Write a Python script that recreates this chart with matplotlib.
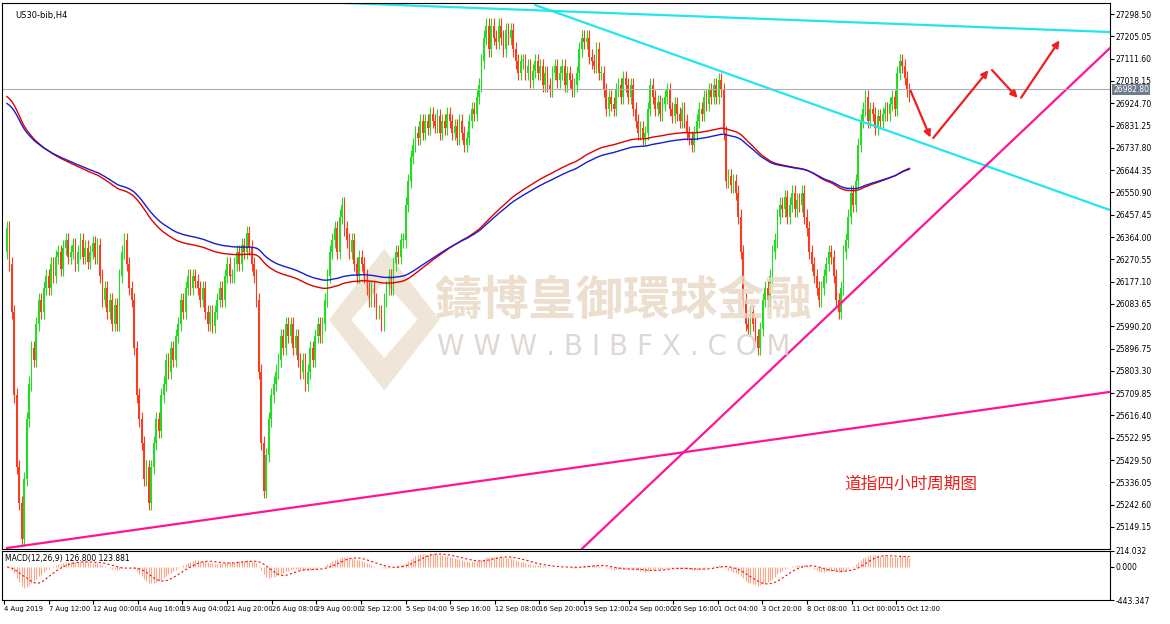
import numpy as np
import pandas as pd
import matplotlib
matplotlib.use("Agg")
import matplotlib.pyplot as plt
from matplotlib.patches import Rectangle, Polygon

plt.rcParams['font.family'] = ['Noto Sans CJK SC', 'DejaVu Sans']

closes = [
26400,26250,26050,25700,25400,25250,25100,25350,25600,25750,
25900,25850,26000,26100,26050,26150,26200,26150,26250,26200,
26280,26300,26230,26320,26350,26280,26300,26330,26250,26300,
26350,26280,26320,26260,26300,26340,26280,26330,26200,26100,
26150,26050,26100,26000,26080,26000,26200,26300,26350,26250,
26150,26100,25900,25700,25600,25500,25350,25400,25250,25400,
25500,25600,25550,25700,25750,25850,25800,25900,25850,25950,
26000,26100,26050,26150,26200,26150,26200,26180,26150,26100,
26150,26050,26000,26050,25990,26050,26100,26150,26100,26200,
26250,26200,26200,26250,26300,26250,26330,26300,26380,26320,
26250,26200,26100,25800,25500,25300,25450,25600,25700,25750,
25800,25850,25950,25900,26000,25950,26000,25900,25950,25850,
25800,25850,25750,25800,25900,25850,25950,26000,25950,26000,
26100,26200,26300,26350,26400,26300,26450,26500,26400,26350,
26300,26350,26250,26200,26280,26250,26200,26150,26100,26150,
26100,26050,26050,26000,26100,26150,26200,26150,26250,26300,
26280,26350,26350,26500,26600,26700,26750,26800,26780,26850,
26800,26850,26820,26880,26850,26830,26870,26800,26850,26820,
26880,26850,26800,26830,26780,26850,26800,26750,26780,26850,
26900,26880,26950,27000,27100,27200,27250,27150,27250,27200,
27180,27250,27200,27150,27230,27200,27230,27150,27100,27050,
27100,27100,27050,27080,27020,27060,27100,27050,27080,27000,
27050,27000,26980,27050,27080,27020,27050,27080,27000,27050,
27020,26980,27000,27050,27150,27200,27180,27200,27120,27100,
27080,27150,27050,27050,26980,26900,26950,26920,26900,26980,
27000,26950,27030,27000,26950,27000,26900,26850,26800,26820,
26780,26800,26900,27000,26950,26900,26930,26880,26920,26950,
26980,26900,26870,26920,26880,26850,26900,26850,26800,26780,
26750,26800,26850,26900,26880,26950,26920,26980,26950,27000,
26950,27020,26980,26800,26600,26620,26580,26600,26550,26450,
26300,26100,26000,25980,26050,26000,25950,25900,25980,26100,
26150,26100,26200,26300,26350,26450,26500,26480,26530,26450,
26500,26550,26480,26520,26500,26550,26450,26400,26300,26250,
26200,26150,26100,26150,26200,26250,26300,26280,26200,26100,
26050,26150,26300,26350,26450,26550,26500,26600,26750,26850,
26900,26950,26850,26900,26880,26820,26870,26850,26880,26900,
26880,26920,26950,26900,27050,27100,27080,27030,26980,26960]
first_open = 26300
wick = 30
ma_red_seed = 26960
ma_blue_seed = 26930

tick_labels = ["4 Aug 2019","7 Aug 12:00","12 Aug 00:00","14 Aug 16:00","19 Aug 04:00",
               "21 Aug 20:00","26 Aug 08:00","29 Aug 00:00","2 Sep 12:00","5 Sep 04:00",
               "9 Sep 16:00","12 Sep 08:00","16 Sep 20:00","19 Sep 12:00","24 Sep 00:00",
               "26 Sep 16:00","1 Oct 04:00","3 Oct 20:00","8 Oct 08:00","11 Oct 00:00","15 Oct 12:00"]
price_ticks = [25149.15 + 93.45*k for k in range(24)]
current_price = 26982.80

cyan_lines = [((106, 27357), (451, 27223)), ((216, 27336), (451, 26477))]
magenta_lines = [((235, 25057), (451, 27156)), ((0, 25061), (451, 25715))]
arrow_path = [(369, 26988), (378, 26770), (402, 27072), (414, 26938), (431, 27198)]

c = np.array(closes, float)
o = np.concatenate([[first_open], c[:-1]])
n = len(c)
x = np.arange(n)

fig = plt.figure(figsize=(11.7, 6.24), dpi=100)
fig.patch.set_facecolor('white')
ax = fig.add_axes([2/1170, 75/624, 1108/1170, 546/624])
ax2 = fig.add_axes([2/1170, 24/624, 1108/1170, 49/624])

xmin, xmax = -2.04, 451
ax.set_xlim(xmin, xmax); ax2.set_xlim(xmin, xmax)
ax.set_ylim(25056.8, 27344.6)

up_col, dn_col = '#22dd22', '#ff3b1f'
for i in range(n):
    col = up_col if c[i] >= o[i] else dn_col
    hi = max(o[i], c[i]) + wick
    lo = min(o[i], c[i]) - wick
    ax.vlines(x[i], lo, hi, color=col, lw=0.8)
    b = min(o[i], c[i]); h = max(abs(c[i]-o[i]), 4)
    ax.add_patch(Rectangle((x[i]-0.35, b), 0.7, h, color=col, lw=0))

s = pd.Series(c)
def ema(series, span, seed):
    a = 2/(span+1); out = []; v = seed
    for val in series:
        v = v + a*(val - v); out.append(v)
    return np.array(out)
ax.plot(x, ema(c, 150, ma_red_seed), color='#e00000', lw=1)
ax.plot(x, ema(c, 170, ma_blue_seed), color='#1a1ad0', lw=1)

for (p0, p1) in cyan_lines:
    ax.plot([p0[0], p1[0]], [p0[1], p1[1]], color='#22e5ee', lw=1.6)
for (p0, p1) in magenta_lines:
    ax.plot([p0[0], p1[0]], [p0[1], p1[1]], color='#ff1493', lw=1.6)
ax.axhline(current_price, color='#a8b0b8', lw=0.8)
ax.text(1.003, current_price, f"{current_price:.2f}", transform=ax.get_yaxis_transform(),
        fontsize=5.5, color='white', va='center', ha='left', family='DejaVu Sans',
        bbox=dict(boxstyle='square,pad=0.15', fc='#6f7d8c', ec='none'), clip_on=False, zorder=5)

for k in range(len(arrow_path)-1):
    ax.annotate('', xy=arrow_path[k+1], xytext=arrow_path[k],
                arrowprops=dict(arrowstyle='-|>', color='#ee2020', lw=1.6, mutation_scale=10))

ax.text(0.39, 0.455, "鑄博皇御環球金融", transform=ax.transAxes, fontsize=34, color='#e8d8c4',
        alpha=0.8, ha='left', va='center', fontweight='bold')
ax.text(0.393, 0.37, "W W W . B I B F X . C O M", transform=ax.transAxes, fontsize=20,
        color='#ddd8d4', ha='left', va='center', family='DejaVu Sans')
ax.add_patch(Polygon([[0.295, 0.42], [0.345, 0.55], [0.395, 0.42], [0.345, 0.29]],
             closed=True, transform=ax.transAxes, fc='#ede0cf', ec='none', alpha=0.8))
ax.add_patch(Polygon([[0.315, 0.42], [0.345, 0.49], [0.375, 0.42], [0.345, 0.35]],
             closed=True, transform=ax.transAxes, fc='white', ec='none'))

ax.text(0.76, 0.11, "道指四小时周期图", transform=ax.transAxes, fontsize=12, color='#ee1c1c')
ax.text(0.012, 0.985, "US30-bib,H4", transform=ax.transAxes, fontsize=6, color='black',
        va='top', family='DejaVu Sans')

for a in (ax, ax2):
    a.yaxis.tick_right()
    a.tick_params(axis='y', labelsize=5.5, length=3, pad=1)
    for sp in a.spines.values():
        sp.set_linewidth(0.8)
ax.set_yticks(price_ticks)
ax.set_yticklabels([f"{t:.2f}" for t in price_ticks], family='DejaVu Sans')
ax.set_xticks([])

macd = s.ewm(span=12, adjust=False).mean() - s.ewm(span=26, adjust=False).mean()
sig = macd.rolling(9, min_periods=1).mean()
ax2.vlines(x, 0, macd, color='#ffa585', lw=0.8)
ax2.plot(x, sig, color='#ee1010', lw=0.8, ls=(0, (2, 2)))
ax2.set_ylim(-443.347, 214.032)
ax2.set_yticks([214.032, 0.0, -443.347])
ax2.set_yticklabels(["214.032", "0.000", "-443.347"], family='DejaVu Sans')
ax2.text(0.003, 0.93, "MACD(12,26,9) 126.800 123.881", transform=ax2.transAxes,
         fontsize=5.5, va='top', family='DejaVu Sans')
tick_pos = [-1.2 + 18.24*k for k in range(len(tick_labels))]
ax2.set_xticks(tick_pos)
ax2.set_xticklabels(tick_labels, fontsize=4.9, ha='left', family='DejaVu Sans')
ax2.tick_params(axis='x', length=3, pad=1)

fig.savefig("out.png", dpi=100)
